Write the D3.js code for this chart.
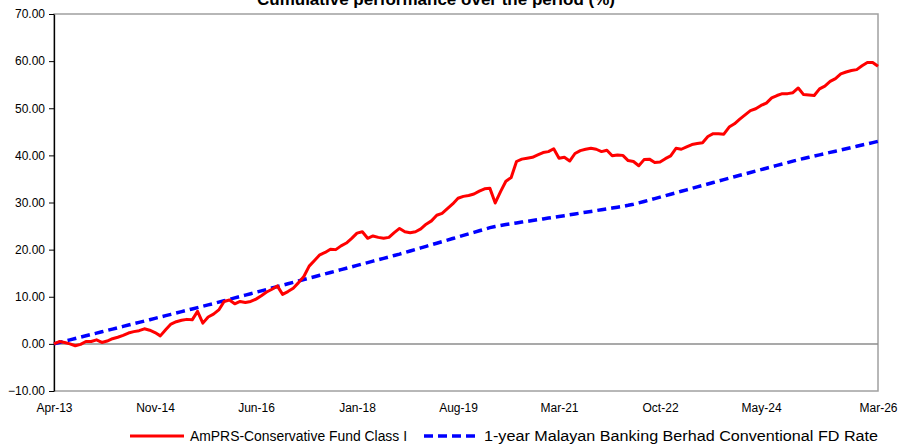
<!DOCTYPE html>
<html>
<head>
<meta charset="utf-8">
<script src="https://cdn.jsdelivr.net/npm/d3@7"></script>
<style>
  body { margin: 0; background: #fff; }
  text { font-family: "Liberation Sans", Arial, sans-serif; fill: #000; }
</style>
</head>
<body>
<div id="chart"></div>
<script>
// cumulative % per month, Apr-13 .. Mar-26
var fundValues = [
  0.0, 0.5, 0.3, 0.0, -0.4, -0.1, 0.5, 0.5, 0.85, 0.3, 0.6, 1.1,
  1.4, 1.8, 2.3, 2.6, 2.8, 3.2, 2.9, 2.4, 1.7, 3.0, 4.2, 4.7,
  5.0, 5.2, 5.1, 6.9, 4.4, 5.7, 6.3, 7.2, 9.0, 9.3, 8.5, 9.0,
  8.8, 9.0, 9.5, 10.2, 11.0, 11.6, 12.3, 10.5, 11.1, 11.8, 13.0, 14.3,
  16.5, 17.7, 18.9, 19.4, 20.1, 20.0, 20.8, 21.4, 22.4, 23.5, 23.8, 22.4,
  22.9, 22.6, 22.4, 22.6, 23.6, 24.5, 23.8, 23.6, 23.8, 24.4, 25.4, 26.1,
  27.3, 27.7, 28.7, 29.7, 30.9, 31.3, 31.5, 31.8, 32.4, 32.9, 33.0, 29.9,
  32.3, 34.5, 35.3, 38.7, 39.2, 39.4, 39.6, 40.1, 40.6, 40.8, 41.4, 39.4,
  39.6, 38.8, 40.4, 41.0, 41.3, 41.5, 41.3, 40.8, 41.1, 39.9, 40.1, 40.0,
  38.9, 38.7, 37.8, 39.1, 39.2, 38.5, 38.6, 39.3, 39.9, 41.5, 41.3, 41.8,
  42.3, 42.5, 42.7, 44.0, 44.6, 44.6, 44.5, 46.0, 46.7, 47.7, 48.6, 49.5,
  49.9, 50.6, 51.1, 52.2, 52.7, 53.1, 53.1, 53.3, 54.3, 52.9, 52.8, 52.7,
  54.1, 54.7, 55.7, 56.3, 57.3, 57.7, 58.0, 58.2, 59.0, 59.7, 59.7, 58.9
];

var fdValues = [
  0.00, 0.29, 0.57, 0.86, 1.14, 1.43, 1.71, 2.00, 2.28, 2.57, 2.85, 3.14,
  3.42, 3.71, 3.99, 4.28, 4.56, 4.85, 5.13, 5.42, 5.70, 5.99, 6.27, 6.56,
  6.84, 7.13, 7.41, 7.70, 7.98, 8.27, 8.55, 8.85, 9.15, 9.45, 9.75, 10.05,
  10.35, 10.65, 10.95, 11.25, 11.55, 11.85, 12.15, 12.45, 12.75, 13.05, 13.35, 13.65,
  13.95, 14.25, 14.55, 14.85, 15.15, 15.45, 15.75, 16.05, 16.35, 16.65, 16.95, 17.25,
  17.55, 17.85, 18.15, 18.45, 18.75, 19.05, 19.38, 19.71, 20.04, 20.37, 20.70, 21.03,
  21.36, 21.69, 22.02, 22.35, 22.68, 23.01, 23.34, 23.67, 24.00, 24.33, 24.66, 24.92,
  25.14, 25.33, 25.50, 25.67, 25.84, 26.01, 26.18, 26.35, 26.52, 26.69, 26.86, 27.03,
  27.21, 27.39, 27.57, 27.75, 27.93, 28.11, 28.29, 28.47, 28.65, 28.83, 29.01, 29.19,
  29.40, 29.64, 29.91, 30.21, 30.52, 30.83, 31.14, 31.45, 31.76, 32.07, 32.38, 32.69,
  33.00, 33.31, 33.62, 33.93, 34.24, 34.55, 34.86, 35.17, 35.47, 35.77, 36.07, 36.37,
  36.67, 36.97, 37.27, 37.57, 37.87, 38.17, 38.47, 38.77, 39.07, 39.33, 39.59, 39.85,
  40.11, 40.37, 40.63, 40.89, 41.15, 41.41, 41.67, 41.93, 42.19, 42.45, 42.71, 42.97
];

var tickLabels = ["Apr-13", "Nov-14", "Jun-16", "Jan-18", "Aug-19", "Mar-21", "Oct-22", "May-24", "Mar-26"];
var yTicks = [-10, 0, 10, 20, 30, 40, 50, 60, 70];
var seriesNames = ["AmPRS-Conservative Fund Class I", "1-year Malayan Banking Berhad Conventional FD Rate"];
var chartTitle = "Cumulative performance over the period (%)";

// monthly categories
var months = d3.timeMonth.range(new Date(2013, 3, 1), new Date(2026, 3, 1)).map(d3.timeFormat("%b-%y"));

var svgWidth = 898, svgHeight = 445;
var margin = {top: 14, right: 20, bottom: 54, left: 54};
var width = svgWidth - margin.left - margin.right;
var height = svgHeight - margin.top - margin.bottom;

var svg = d3.select("#chart")
  .append("svg")
  .attr("width", svgWidth)
  .attr("height", svgHeight);

// title sits mostly above the top edge, as in the source image
svg.append("text")
  .attr("x", 436)
  .attr("y", 5)
  .attr("text-anchor", "middle")
  .style("font-size", "17px")
  .style("font-weight", "bold")
  .text(chartTitle);

var chartGroup = svg.append("g")
  .attr("transform", `translate(${margin.left}, ${margin.top})`);

var x = d3.scalePoint().domain(months).range([0, width]);
var y = d3.scaleLinear().domain([-10, 70]).range([height, 0]);

// plot area border
chartGroup.append("rect")
  .attr("width", width)
  .attr("height", height)
  .attr("fill", "none")
  .attr("stroke", "#a0a0a0")
  .attr("stroke-width", 1.5);

// zero line
chartGroup.append("line")
  .attr("x1", 0).attr("x2", width)
  .attr("y1", y(0)).attr("y2", y(0))
  .attr("stroke", "#8c8c8c")
  .attr("stroke-width", 1.5);

var leftAxis = d3.axisLeft(y)
  .tickValues(yTicks)
  .tickFormat(d3.format(".2f"))
  .tickSize(5)
  .tickPadding(4)
  .tickSizeOuter(0);

var yAxis = chartGroup.append("g").call(leftAxis);
yAxis.select(".domain").attr("stroke", "#000").attr("stroke-width", 1.3);
yAxis.selectAll("line").attr("stroke", "#000");
yAxis.selectAll("text").style("font-size", "12px").attr("fill", "#000");

var bottomAxis = d3.axisBottom(x)
  .tickValues(tickLabels)
  .tickSize(0)
  .tickPadding(12);

var xAxis = chartGroup.append("g")
  .attr("transform", `translate(0, ${height})`)
  .call(bottomAxis);
xAxis.select(".domain").remove();
xAxis.selectAll("text").style("font-size", "12px").attr("fill", "#000");

var line = d3.line()
  .x((d, i) => x(months[i]))
  .y(d => y(d));

chartGroup.append("path")
  .datum(fdValues)
  .attr("d", line)
  .attr("fill", "none")
  .attr("stroke", "#0000ff")
  .attr("stroke-width", 3.5)
  .attr("stroke-dasharray", "9,5");

chartGroup.append("path")
  .datum(fundValues)
  .attr("d", line)
  .attr("fill", "none")
  .attr("stroke", "#ff0000")
  .attr("stroke-width", 3)
  .attr("stroke-linejoin", "round");

// legend
var legend = svg.append("g").attr("transform", "translate(0, 436)");
var legendItems = [
  {name: seriesNames[0], x: 130, color: "#ff0000", dash: null, w: 3, len: 217},
  {name: seriesNames[1], x: 424, color: "#0000ff", dash: "9,5", w: 3.5, len: 394}
];
legendItems.forEach(function(item) {
  legend.append("line")
    .attr("x1", item.x).attr("x2", item.x + 54)
    .attr("y1", 0).attr("y2", 0)
    .attr("stroke", item.color)
    .attr("stroke-width", item.w)
    .attr("stroke-dasharray", item.dash);
  legend.append("text")
    .attr("x", item.x + 60)
    .attr("y", 5)
    .attr("textLength", item.len)
    .attr("lengthAdjust", "spacingAndGlyphs")
    .style("font-size", "14px")
    .text(item.name);
});
</script>
</body>
</html>
